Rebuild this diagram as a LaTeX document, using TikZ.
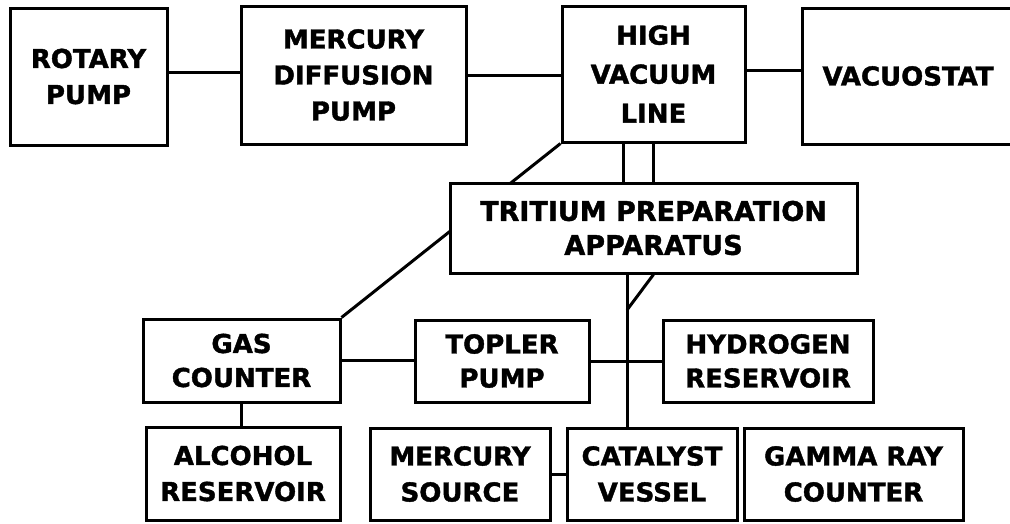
\documentclass[tikz,border=0pt]{standalone}
\usepackage{fontspec}
\setmainfont{DejaVu Sans}[BoldFeatures={FakeBold=1.5}]
\pgfdeclarelayer{bg}
\pgfsetlayers{bg,main}
\begin{document}
\begin{tikzpicture}[x=1pt,y=-1pt,
  box/.style={draw,line width=3pt,fill=white,inner sep=0pt,align=center,
    font=\bfseries\fontsize{26}{36}\selectfont},
  conn/.style={line width=3pt}]
\useasboundingbox (0,0) rectangle (1010,523);
\clip (0,0) rectangle (1010,523);
\node[box,minimum width=157,minimum height=137] (rotary) at (88.5,76.5) {ROTARY\\PUMP};
\node[box,minimum width=225,minimum height=138] (mdp) at (353.5,75) {MERCURY\\DIFFUSION\\PUMP};
\node[box,minimum width=183,minimum height=136,font=\bfseries\fontsize{26}{39}\selectfont] (hvl) at (653.5,74) {HIGH\\VACUUM\\LINE};
\node[box,minimum width=212,minimum height=136] (vac) at (908,76) {VACUOSTAT};
\node[box,minimum width=407,minimum height=90,font=\bfseries\fontsize{27}{34}\selectfont] (tpa) at (653.5,228) {TRITIUM PREPARATION\\APPARATUS};
\node[box,minimum width=197,minimum height=83,font=\bfseries\fontsize{26}{34}\selectfont] (gas) at (241.5,360.5) {GAS\\COUNTER};
\node[box,minimum width=174,minimum height=82,font=\bfseries\fontsize{26}{34}\selectfont] (topler) at (502,361) {TOPLER\\PUMP};
\node[box,minimum width=210,minimum height=82,font=\bfseries\fontsize{26}{34}\selectfont] (hyd) at (768,361) {HYDROGEN\\RESERVOIR};
\node[box,minimum width=194,minimum height=93,font=\bfseries\fontsize{26}{36}\selectfont] (alc) at (243,473.5) {ALCOHOL\\RESERVOIR};
\node[box,minimum width=180,minimum height=92,font=\bfseries\fontsize{26}{36}\selectfont] (msrc) at (460,474) {MERCURY\\SOURCE};
\node[box,minimum width=170,minimum height=92,font=\bfseries\fontsize{26}{36}\selectfont] (cat) at (652,474) {CATALYST\\VESSEL};
\node[box,minimum width=219,minimum height=92,font=\bfseries\fontsize{26}{36}\selectfont] (gamma) at (853.5,474) {GAMMA RAY\\COUNTER};
\coordinate (j) at (627,310);
\begin{pgfonlayer}{bg}
\draw[conn] ([yshift=4pt]rotary.east) -- ([yshift=4pt]rotary.east -| mdp.west);
\draw[conn] (mdp.east) -- (mdp.east -| hvl.west);
\draw[conn] ([yshift=4pt]hvl.east) -- ([yshift=4pt]hvl.east -| vac.west);
\draw[conn] ([xshift=-30pt]hvl.south) -- ([xshift=-30pt]hvl.south |- tpa.north);
\draw[conn] (hvl.south) -- (hvl.south |- tpa.north);
\draw[conn] (hvl.south west) -- (gas.north east);
\draw[conn] (j |- tpa.south) -- (j |- cat.north);
\draw[conn] (tpa.south) -- (j);
\draw[conn] (gas.east) -- (gas.east -| topler.west);
\draw[conn] (topler.east) -- (topler.east -| hyd.west);
\draw[conn] (gas.south) -- (gas.south |- alc.north);
\draw[conn] (msrc.east) -- (msrc.east -| cat.west);
\end{pgfonlayer}
\end{tikzpicture}
\end{document}
